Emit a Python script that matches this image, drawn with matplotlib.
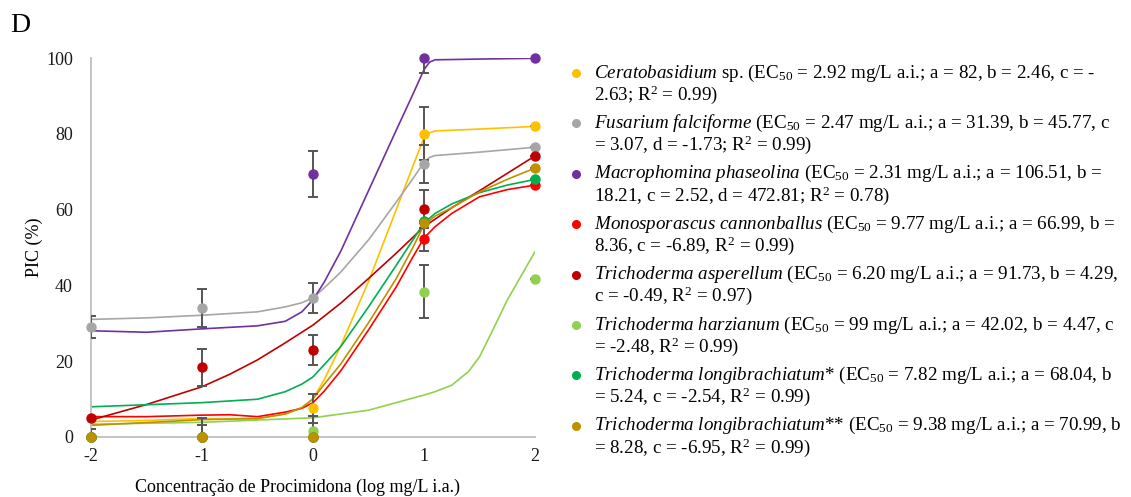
import matplotlib
matplotlib.use("Agg")
import matplotlib.pyplot as plt

plt.rcParams["font.family"] = ["Liberation Serif", "DejaVu Serif"]
plt.rcParams["mathtext.fontset"] = "custom"
plt.rcParams["mathtext.rm"] = "Liberation Serif"
plt.rcParams["mathtext.it"] = "Liberation Serif:italic"

# observed points (log concentration)
dose = [-2, -1, 0, 1, 2]

colors = ["#FFC000", "#A6A6A6", "#7030A0", "#FF0000",
          "#C00000", "#92D050", "#00B050", "#BF9000"]

pic_cerato = [0, 0, 7.5, 80.1, 82.0]
pic_fusarium = [29.0, 34.1, 36.7, 72.0, 76.5]
pic_macro = [0, 0, 69.4, 100, 100]
pic_mono = [0, 0, 0, 52.2, 66.5]
pic_asper = [4.9, 18.3, 22.9, 60.1, 74.2]
pic_harz = [0, 0, 1.5, 38.3, 41.6]
pic_long1 = [0, 0, 0, 57.0, 68.0]
pic_long2 = [0, 0, 0, 56.4, 71.0]

err_cerato = [0, 0, 3.8, 7, 0]
err_fusarium = [2.9, 5, 4, 5, 0]
err_macro = [0, 0, 6, 4, 0]
err_mono = [0, 0, 0, 3, 0]
err_asper = [0, 5, 4, 5, 0]
err_harz = [0, 3.1, 4, 7, 0]
err_long1 = [0, 0, 0, 0, 0]
err_long2 = [2, 4.9, 0, 0, 0]

# fitted curves
fit_x_cerato = [-2, -1.5, -1, -0.5, -0.25, -0.1, 0, 0.1, 0.25, 0.5, 0.75, 0.9, 1, 1.05, 1.1, 1.5, 2]
fit_y_cerato = [4.0, 4.3, 4.8, 4.8, 6.0, 7.6, 10, 15, 24, 41, 60, 71.5, 79, 80.3, 80.8, 81.3, 82]
fit_x_fusarium = [-2, -1.5, -1, -0.5, -0.25, -0.1, 0, 0.1, 0.25, 0.5, 0.75, 0.9, 1, 1.05, 1.1, 1.5, 2]
fit_y_fusarium = [31.0, 31.4, 32.1, 33.0, 34.3, 35.4, 36.7, 39.3, 43.5, 52, 62, 68.2, 72.5, 73.8, 74.3, 75.2, 76.5]
fit_x_macro = [-2, -1.5, -1, -0.5, -0.25, -0.1, 0, 0.1, 0.25, 0.5, 0.75, 0.9, 1, 1.05, 1.1, 1.5, 2]
fit_y_macro = [28.0, 27.6, 28.5, 29.3, 30.5, 33.0, 36.2, 40.8, 49, 65, 81, 90.5, 97, 99, 99.6, 99.8, 100]
fit_x_mono = [-2, -1.5, -1, -0.75, -0.5, -0.25, -0.1, 0, 0.1, 0.25, 0.5, 0.75, 0.9, 1, 1.1, 1.25, 1.5, 1.75, 2]
fit_y_mono = [5.3, 5.3, 5.7, 5.8, 5.3, 6.5, 7.5, 9, 12, 17.4, 28.2, 39.6, 47.5, 52.5, 55.5, 59, 63.4, 65.3, 66.5]
fit_x_asper = [-2, -1.5, -1, -0.75, -0.5, -0.25, 0, 0.25, 0.5, 0.75, 1, 1.25, 1.5, 1.75, 2]
fit_y_asper = [4.4, 8.5, 13.2, 16.5, 20.3, 24.8, 29.5, 35.3, 41.8, 48.5, 55.5, 60.5, 65, 69.6, 74.2]
fit_x_harz = [-2, -1, 0, 0.5, 1, 1.1, 1.25, 1.3, 1.4, 1.5, 1.6, 1.75, 2]
fit_y_harz = [3.3, 3.8, 5.0, 7.0, 11.0, 11.9, 13.6, 14.8, 17.2, 21.1, 27, 36.1, 48.9]
fit_x_long1 = [-2, -1, -0.5, -0.25, -0.1, 0, 0.1, 0.25, 0.5, 0.75, 0.9, 1, 1.1, 1.25, 1.5, 1.75, 2]
fit_y_long1 = [7.9, 9.0, 9.9, 11.9, 13.9, 15.8, 19, 23.8, 34.3, 45.3, 52, 56.5, 59, 61.5, 64.5, 66.5, 68]
fit_x_long2 = [-2, -1, -0.5, -0.25, -0.1, 0, 0.1, 0.25, 0.5, 0.75, 0.9, 1, 1.1, 1.25, 1.5, 1.75, 2]
fit_y_long2 = [3.0, 4.5, 4.8, 6, 7.7, 10, 13.8, 19.2, 30.1, 41.8, 50, 56, 58.3, 60.5, 64.7, 68, 71]

species = ["Ceratobasidium", "Fusarium\\ falciforme", "Macrophomina\\ phaseolina",
           "Monosporascus\\ cannonballus", "Trichoderma\\ asperellum",
           "Trichoderma\\ harzianum", "Trichoderma\\ longibrachiatum",
           "Trichoderma\\ longibrachiatum"]
line1_tail = [" sp. (EC$_{50}$ = 2.92 mg/L a.i.; a = 82, b = 2.46, c = -",
              " (EC$_{50}$ = 2.47 mg/L a.i.; a = 31.39, b = 45.77, c",
              " (EC$_{50}$ = 2.31 mg/L a.i.; a = 106.51, b =",
              " (EC$_{50}$ = 9.77 mg/L a.i.; a = 66.99, b =",
              " (EC$_{50}$ = 6.20 mg/L a.i.; a = 91.73, b = 4.29,",
              " (EC$_{50}$ = 99 mg/L a.i.; a = 42.02, b = 4.47, c",
              "* (EC$_{50}$ = 7.82 mg/L a.i.; a = 68.04, b",
              "** (EC$_{50}$ = 9.38 mg/L a.i.; a = 70.99, b"]
line2 = ["2.63; R$^{2}$ = 0.99)",
         "= 3.07, d = -1.73; R$^{2}$ = 0.99)",
         "18.21, c = 2.52, d = 472.81; R$^{2}$ = 0.78)",
         "8.36, c = -6.89, R$^{2}$ = 0.99)",
         "c = -0.49, R$^{2}$ = 0.97)",
         "= -2.48, R$^{2}$ = 0.99)",
         "= 5.24, c = -2.54, R$^{2}$ = 0.99)",
         "= 8.28, c = -6.95, R$^{2}$ = 0.99)"]

pics = [pic_cerato, pic_fusarium, pic_macro, pic_mono, pic_asper, pic_harz, pic_long1, pic_long2]
errs = [err_cerato, err_fusarium, err_macro, err_mono, err_asper, err_harz, err_long1, err_long2]
fits = [(fit_x_cerato, fit_y_cerato), (fit_x_fusarium, fit_y_fusarium),
        (fit_x_macro, fit_y_macro), (fit_x_mono, fit_y_mono),
        (fit_x_asper, fit_y_asper), (fit_x_harz, fit_y_harz),
        (fit_x_long1, fit_y_long1), (fit_x_long2, fit_y_long2)]

W, H = 1131, 497
fig = plt.figure(figsize=(W / 100, H / 100), dpi=100)
ax = fig.add_axes([91 / W, 1 - 436.7 / H, 444 / W, 378.4 / H])

for (fx, fy), col in zip(fits, colors):
    ax.plot(fx, fy, color=col, lw=1.2, zorder=2, solid_joinstyle="round")

for vals, err, col in zip(pics, errs, colors):
    ax.errorbar(dose, vals, yerr=err, fmt="none", ecolor="#555555",
                elinewidth=1.4, capsize=3.5, capthick=1.4, zorder=3)
for vals, col in zip(pics, colors):
    ax.plot(dose, vals, "o", color=col, ms=6.5, mec=col, zorder=4, clip_on=False)

ax.set_xlim(-2, 2)
ax.set_ylim(0, 100)
ax.set_xticks(dose)
ax.set_xticklabels(["-2", "-1", "0", "1", "2"])
ax.set_yticks([0, 20, 40, 60, 80, 100])
ax.tick_params(length=0, labelsize=13, colors="#1a1a1a")
ax.tick_params(axis="y", pad=13)
ax.tick_params(axis="x", pad=8)
for side in ["top", "right"]:
    ax.spines[side].set_visible(False)
for side in ["left", "bottom"]:
    ax.spines[side].set_color("#BFBFBF")
    ax.spines[side].set_linewidth(1.3)
ax.set_xlabel("Concentração de Procimidona (log mg/L i.a.)", fontsize=13)
ax.xaxis.set_label_coords(0.464, -0.11)
ax.set_ylabel("PIC (%)", fontsize=13)
ax.yaxis.set_label_coords(-0.107, 0.5)

fig.text(10 / W, 1 - 25 / H, "D", fontsize=20, va="center", ha="left")

# legend drawn by hand to keep the wrapped lines
for i in range(len(species)):
    y1 = 73 + 50.4 * i
    fig.add_artist(plt.Line2D([576 / W], [1 - y1 / H], marker="o", ms=5.5,
                              color=colors[i], mec=colors[i], transform=fig.transFigure))
    fig.text(594 / W, 1 - y1 / H, "$\\mathit{" + species[i] + "}$" + line1_tail[i],
             fontsize=13.7, va="center", ha="left")
    fig.text(594 / W, 1 - (y1 + 21.5) / H, line2[i], fontsize=13.7, va="center", ha="left")

fig.savefig("out.png", dpi=100)
